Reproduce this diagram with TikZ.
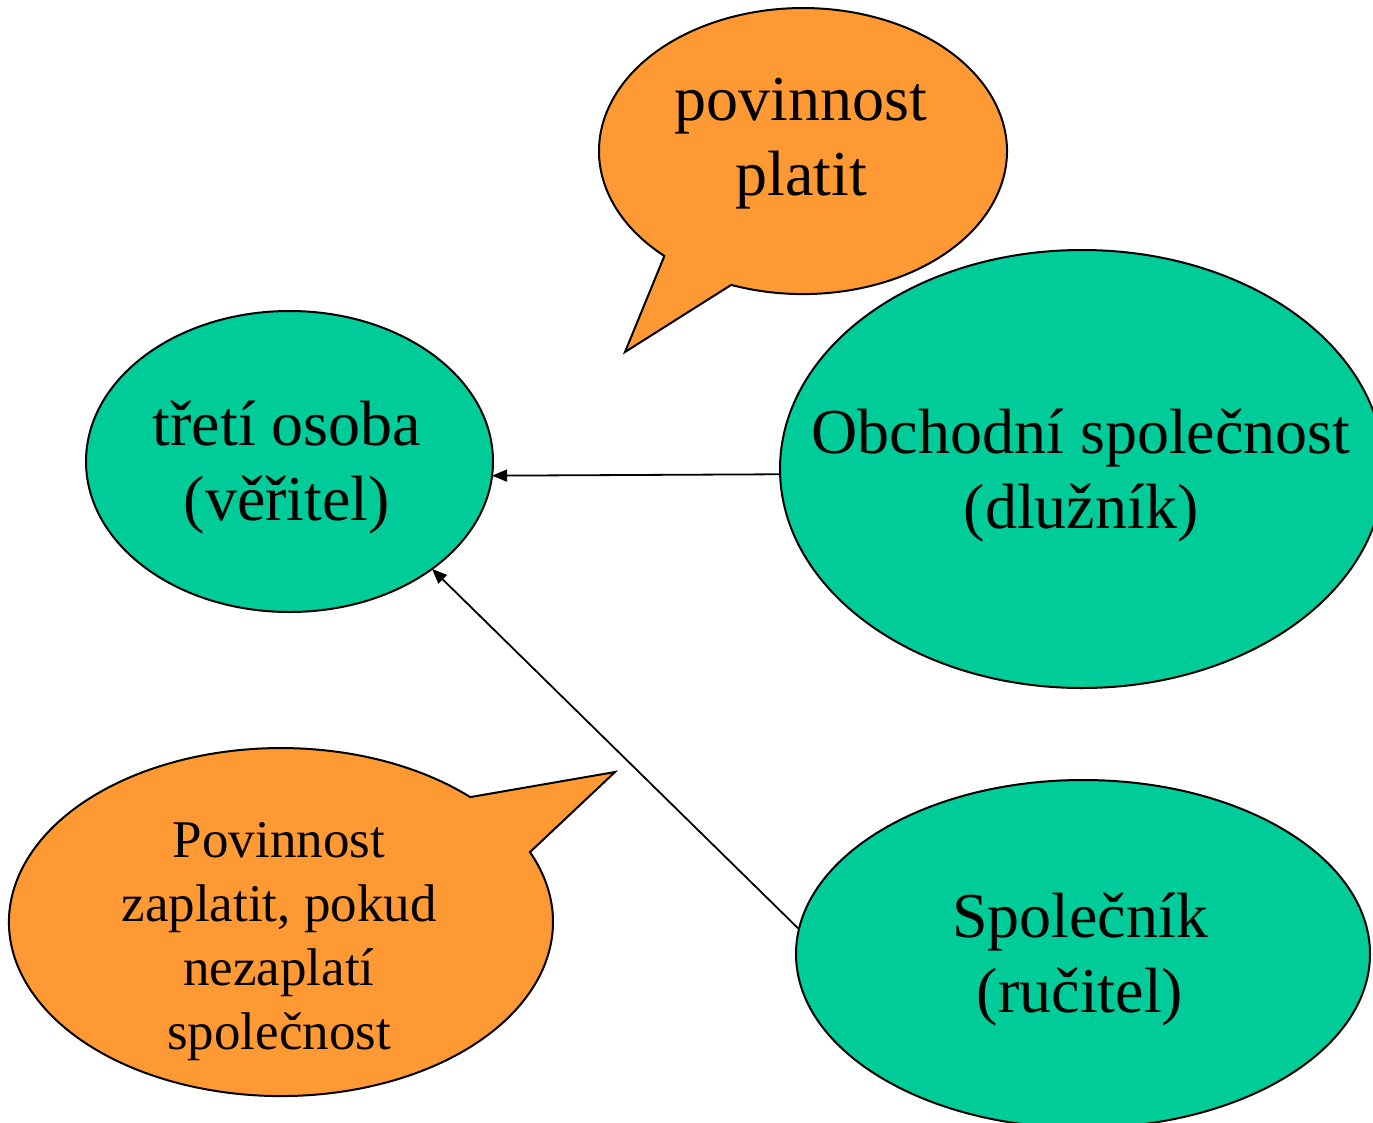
\documentclass[tikz,border=0pt]{standalone}
\usepackage{fontspec}
\setmainfont{Liberation Serif}
\usetikzlibrary{shapes.geometric,arrows.meta}
\definecolor{nodegreen}{HTML}{00CC99}
\definecolor{calloutorange}{HTML}{FF9933}
\tikzset{
  party/.style={ellipse, draw=black, fill=nodegreen, line width=2pt, inner sep=0pt, outer sep=0pt},
  bubble/.style={draw=black, fill=calloutorange, line width=2pt, line join=miter},
  bigtext/.style={anchor=base, inner sep=0pt, font=\fontsize{64}{75}\selectfont},
  smalltext/.style={anchor=base, inner sep=0pt, font=\fontsize{53}{64}\selectfont},
  link/.style={draw=black, line width=1.8pt, -{Triangle[length=15pt,width=12pt]}}
}
\begin{document}
\begin{tikzpicture}[x=1pt,y=-1pt]
\useasboundingbox (0,0) rectangle (1373,1122);

% callout "povinnost platit"
\draw[bubble] (625,352) -- (731.2,284.9)
  arc[start angle=110.6, end angle=-227.2, x radius=204, y radius=143] -- cycle;
\node[bigtext] (duty) at (801,120) {\begin{tabular}[t]{@{}c@{}}povinnost\\platit\end{tabular}};

% callout "Povinnost zaplatit ..."
\draw[bubble] (615,772) -- (530.0,852.1)
  arc[start angle=-23.7, end angle=314.1, x radius=272, y radius=174] -- cycle;
\node[smalltext] (guarantee) at (279,857) {\begin{tabular}[t]{@{}c@{}}Povinnost\\zaplatit, pokud\\nezaplatí\\společnost\end{tabular}};

% parties
\node[party, minimum width=407pt, minimum height=301pt] (creditor) at (289.5,461.5) {};
\node[party, minimum width=604pt, minimum height=438pt] (debtor) at (1082,469) {};
\node[party, minimum width=574pt, minimum height=348pt] (guarantor) at (1083,954) {};

\node[bigtext] (creditortext) at (287,445) {\begin{tabular}[t]{@{}c@{}}třetí osoba\\(věřitel)\end{tabular}};
\node[bigtext] (debtortext) at (1081,453) {\begin{tabular}[t]{@{}c@{}}Obchodní společnost\\(dlužník)\end{tabular}};
\node[bigtext] (guarantortext) at (1080,937) {\begin{tabular}[t]{@{}c@{}}Společník\\(ručitel)\end{tabular}};

% connectors
\draw[link] (debtor.181.5) -- (creditor.-4.4);
\draw[link] (guarantor.175.5) -- (creditor.-37.1);
\end{tikzpicture}
\end{document}
